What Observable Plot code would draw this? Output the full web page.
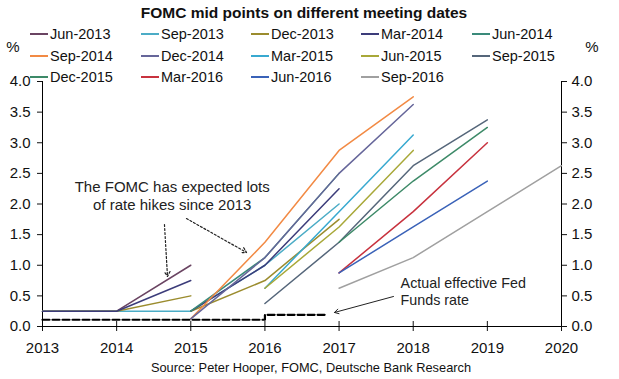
<!DOCTYPE html>
<html><head><meta charset="utf-8">
<script src="https://cdn.jsdelivr.net/npm/d3@7"></script>
<script src="https://cdn.jsdelivr.net/npm/@observablehq/plot@0.6"></script>
<style>
body{margin:0;background:#fff;font-family:"Liberation Sans",Arial,sans-serif;}
#wrap{position:relative;width:619px;height:379px;overflow:hidden;background:#fff}
#wrap svg{position:absolute;left:0;top:0}
.abs{position:absolute;white-space:nowrap;color:#111;line-height:1}
.sw{position:absolute;height:1.6px}
</style></head><body><div id="wrap"></div>
<script>
const years = [2013, 2014, 2015, 2016, 2017, 2018, 2019, 2020];
const yTicks = [0, 0.5, 1, 1.5, 2, 2.5, 3, 3.5, 4];
const seriesNames = ["Jun-2013","Sep-2013","Dec-2013","Mar-2014","Jun-2014","Sep-2014","Dec-2014","Mar-2015","Jun-2015","Sep-2015","Dec-2015","Mar-2016","Jun-2016","Sep-2016"];
const seriesColors = ["#6a4462","#4bacc6","#9b8c2e","#3c3c7a","#3a8a7a","#f28a44","#66669a","#38a9d0","#a8a838","#55667a","#3d8a68","#c8323e","#3a62b8","#a0a0a0"];
// first segment, plotted at years 2013-2015
const earlyYears = [2013, 2014, 2015];
const earlyValues = [[0.25,0.25,1.0],[0.25,0.25,0.25],[0.25,0.25,0.5],[0.25,0.25,0.75],null,null,null,null,null,null,null,null,null,null];
// projection segment: first plotted year and the values that follow yearly
const projStart = [null,2015,2015,2015,2015,2015,2015,2016,2016,2016,2017,2017,2017,2017];
const projValues = [
  null,
  [0.25, 1.0, 2.0],
  [0.25, 0.75, 1.75],
  [0.25, 1.0, 2.25],
  [0.25, 1.125, 2.5],
  [0.125, 1.375, 2.875, 3.75],
  [0.125, 1.125, 2.5, 3.625],
  [0.625, 1.875, 3.125],
  [0.625, 1.625, 2.875],
  [0.375, 1.375, 2.625, 3.375],
  [1.375, 2.375, 3.25],
  [0.875, 1.875, 3.0],
  [0.875, 1.625, 2.375],
  [0.625, 1.125, 1.875, 2.625]
];
// actual effective fed funds rate
const ffYears = [2013, 2016, 2016.84];
const ffValues = [0.11, 0.19, 0.19];
// annotations
const noteText = ["The FOMC has expected lots\nof rate hikes since 2013", "Actual effective Fed\nFunds rate"];
const noteX = [2014.75, 2017.83];
const noteY = [2.14, 0.58];
const noteAnchor = ["middle", "start"];
const noteSize = [15, 14.3];
const arrowX1 = [2014.645, 2014.942, 2017.734];
const arrowY1 = [1.665, 1.763, 0.49];
const arrowX2 = [2014.686, 2015.752, 2016.938];
const arrowY2 = [0.816, 1.208, 0.229];
const arrowDash = ["2,2", "2,2", null];

const rows = [];
seriesNames.forEach((name, i) => {
  if (earlyValues[i]) earlyValues[i].forEach((v, j) => rows.push({name, seg: name + "a", x: earlyYears[j], y: v}));
  if (projValues[i]) projValues[i].forEach((v, j) => rows.push({name, seg: name + "b", x: projStart[i] + j, y: v}));
});
const ffRows = ffYears.map((x, i) => ({x, y: ffValues[i]}));
const notes = noteText.map((t, i) => ({t, x: noteX[i], y: noteY[i], a: noteAnchor[i], s: noteSize[i]}));
const arrows = arrowX1.map((x1, i) => ({x1, y1: arrowY1[i], x2: arrowX2[i], y2: arrowY2[i], d: arrowDash[i]}));

const fmt = d3.format(".1f");
const plot = Plot.plot({
  width: 619, height: 379,
  marginLeft: 42, marginRight: 58, marginTop: 81, marginBottom: 53,
  style: {fontFamily: "Liberation Sans, Arial, sans-serif", fontSize: "15px", color: "#111", background: "transparent"},
  x: {domain: [2013, 2020]},
  y: {domain: [0, 4]},
  color: {domain: seriesNames, range: seriesColors},
  marks: [
    Plot.axisX({ticks: years, tickFormat: d => String(d), tickSize: 5, tickPadding: 11, label: null, fontSize: 15}),
    Plot.axisX({ticks: years, tickFormat: () => "", tickSize: -5, label: null}),
    Plot.axisY({anchor: "left", ticks: yTicks, tickFormat: fmt, tickSize: 5, tickPadding: 7, label: null, fontSize: 15}),
    Plot.axisY({anchor: "right", ticks: yTicks, tickFormat: fmt, tickSize: 5, tickPadding: 5, label: null, fontSize: 15}),
    Plot.ruleY([0], {stroke: "#000"}),
    Plot.ruleX([2013, 2020], {stroke: "#000"}),
    Plot.line(ffRows, {x: "x", y: "y", curve: "step-after", stroke: "#000", strokeWidth: 2.2, strokeDasharray: "7,3"}),
    Plot.line(rows, {x: "x", y: "y", z: "seg", stroke: "name", strokeWidth: 1.5}),
    Plot.text(notes.filter(d => d.a === "middle"), {x: "x", y: "y", text: "t", textAnchor: "middle", lineHeight: 1.2, fontSize: 15, fill: "#222"}),
    Plot.text(notes.filter(d => d.a === "start"), {x: "x", y: "y", text: "t", textAnchor: "start", lineHeight: 1.2, fontSize: 14.3, fill: "#222"}),
    Plot.arrow(arrows.filter(d => d.d), {x1: "x1", y1: "y1", x2: "x2", y2: "y2", bend: 0, stroke: "#222", strokeWidth: 1.2, strokeDasharray: "2,2", headLength: 7}),
    Plot.arrow(arrows.filter(d => !d.d), {x1: "x1", y1: "y1", x2: "x2", y2: "y2", bend: 0, stroke: "#222", strokeWidth: 1, headLength: 7})
  ]
});
const wrap = document.getElementById("wrap");
wrap.appendChild(plot);

function addText(txt, left, top, opts) {
  const el = document.createElement("div");
  el.className = "abs";
  el.textContent = txt;
  el.style.left = left + "px";
  el.style.top = top + "px";
  Object.assign(el.style, opts || {});
  wrap.appendChild(el);
  return el;
}
addText("FOMC mid points on different meeting dates", 304, 13, {fontSize: "15.5px", fontWeight: "bold", transform: "translate(-50%,-50%)"});
addText("%", 13, 46, {fontSize: "15px", transform: "translate(-50%,-50%)"});
addText("%", 592, 46, {fontSize: "15px", transform: "translate(-50%,-50%)"});
addText("Source: Peter Hooper, FOMC, Deutsche Bank Research", 311, 368, {fontSize: "12.8px", transform: "translate(-50%,-50%)"});

const colX = [30, 141, 251, 361, 472];
const rowY = [34, 56, 77];
seriesNames.forEach((name, i) => {
  const c = i % 5, r = Math.floor(i / 5);
  const sw = document.createElement("div");
  sw.className = "sw";
  sw.style.left = colX[c] + "px";
  sw.style.top = (rowY[r] - 0.8) + "px";
  sw.style.width = "18px";
  sw.style.background = seriesColors[i];
  wrap.appendChild(sw);
  addText(name, colX[c] + 20, rowY[r], {fontSize: "14.5px", transform: "translateY(-50%)"});
});
</script></body></html>
